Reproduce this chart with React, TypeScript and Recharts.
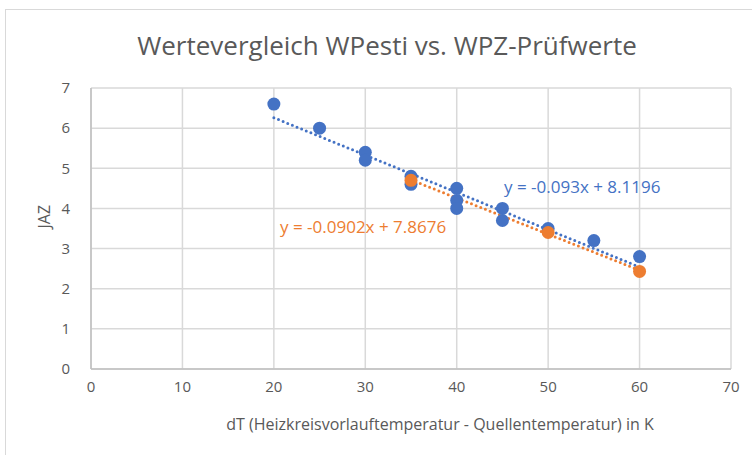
import { ComposedChart, Scatter, Line, XAxis, YAxis, CartesianGrid } from 'recharts';

const BLUE = '#4472C4';
const ORANGE = '#ED7D31';
const GRID = '#d9d9d9';
const TEXT = '#595959';
const FONT = '"Open Sans", sans-serif';

// WPesti
const estiX = [20, 25, 30, 30, 35, 35, 40, 40, 40, 45, 45, 50, 55, 60];
const estiY = [6.6, 6.0, 5.4, 5.2, 4.8, 4.6, 4.5, 4.2, 4.0, 4.0, 3.7, 3.5, 3.2, 2.8];
// WPZ-Prüfwerte
const wpzX = [35, 50, 60];
const wpzY = [4.7, 3.4, 2.43];
// trendline endpoints
const estiTrendX = [20, 60];
const estiTrendY = [6.26, 2.54];
const wpzTrendX = [35, 60];
const wpzTrendY = [4.71, 2.46];

const xTicks = [0, 10, 20, 30, 40, 50, 60, 70];
const yTicks = [0, 1, 2, 3, 4, 5, 6, 7];

const zip = (xs: number[], ys: number[]) => xs.map((x, i) => ({ x, y: ys[i] }));
const esti = zip(estiX, estiY);
const wpz = zip(wpzX, wpzY);
const estiTrend = zip(estiTrendX, estiTrendY);
const wpzTrend = zip(wpzTrendX, wpzTrendY);

const dot = (color: string) => (p: any) => (
  <circle cx={p.cx} cy={p.cy} r={6.5} fill={color} />
);

export default function App() {
  return (
    <div style={{ position: 'absolute', left: 0, top: 0, width: 752, height: 455, overflow: 'hidden', background: '#fff', fontFamily: FONT }}>
      <div style={{ position: 'absolute', left: 5, top: 9, width: 800, height: 500, border: `1.5px solid ${GRID}` }} />
      <div style={{ position: 'absolute', left: 0, top: 27, width: 774, textAlign: 'center', fontSize: 26, color: TEXT, lineHeight: '36px' }}>
        Wertevergleich WPesti vs. WPZ-Prüfwerte
      </div>
      <div style={{ position: 'absolute', left: 0, top: 0 }}>
        <ComposedChart width={752} height={455} margin={{ top: 88, right: 21, bottom: 0, left: 0 }}>
          <CartesianGrid stroke={GRID} strokeWidth={1.5} />
          <XAxis
            type="number"
            dataKey="x"
            domain={[0, 70]}
            ticks={xTicks}
            height={86}
            tickLine={false}
            axisLine={{ stroke: '#bfbfbf', strokeWidth: 1.5 }}
            tick={{ fill: TEXT, fontSize: 15, fontFamily: FONT }}
            tickMargin={6}
          />
          <YAxis
            type="number"
            dataKey="y"
            domain={[0, 7]}
            ticks={yTicks}
            width={91}
            tickLine={false}
            axisLine={{ stroke: '#bfbfbf', strokeWidth: 1.5 }}
            tick={{ fill: TEXT, fontSize: 15, fontFamily: FONT }}
            tickMargin={15}
            label={{ value: 'JAZ', angle: -90, position: 'insideLeft', offset: 44, fill: TEXT, fontSize: 16, fontFamily: FONT }}
          />
          <Line data={wpzTrend} dataKey="y" stroke={ORANGE} strokeWidth={3} strokeDasharray="0 5" strokeLinecap="round" dot={false} isAnimationActive={false} />
          <Line data={estiTrend} dataKey="y" stroke={BLUE} strokeWidth={3} strokeDasharray="0 5" strokeLinecap="round" dot={false} isAnimationActive={false} />
          <Scatter data={esti} dataKey="y" shape={dot(BLUE)} isAnimationActive={false} />
          <Scatter data={wpz} dataKey="y" shape={dot(ORANGE)} isAnimationActive={false} />
        </ComposedChart>
      </div>
      <div style={{ position: 'absolute', left: 0, top: 413, width: 880, textAlign: 'center', fontSize: 16, lineHeight: '22px', color: TEXT, whiteSpace: 'nowrap' }}>
        dT (Heizkreisvorlauftemperatur - Quellentemperatur) in K
      </div>
      <div style={{ position: 'absolute', left: 504, top: 175, fontSize: 17, color: BLUE, whiteSpace: 'nowrap' }}>
        y = -0.093x + 8.1196
      </div>
      <div style={{ position: 'absolute', left: 280, top: 215, fontSize: 17, color: ORANGE, whiteSpace: 'nowrap' }}>
        y = -0.0902x + 7.8676
      </div>
    </div>
  );
}
